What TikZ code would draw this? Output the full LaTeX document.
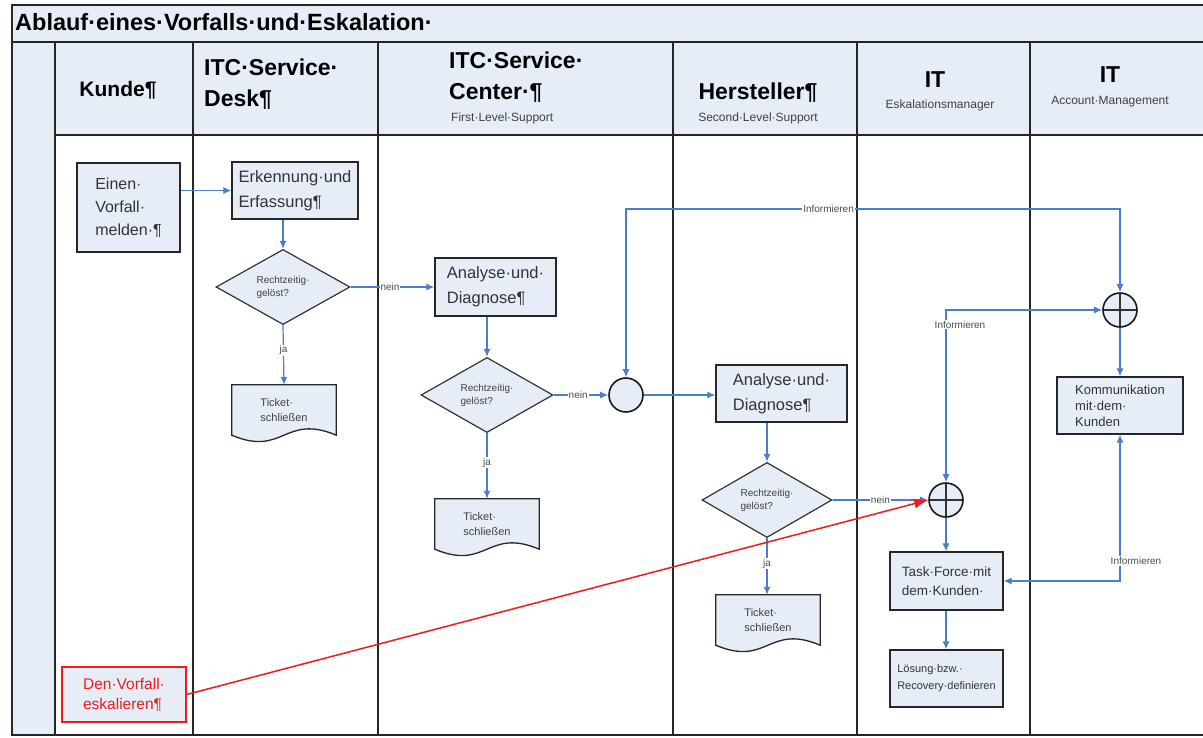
\documentclass[tikz,border=0pt]{standalone}
\usepackage{fontspec}
\setmainfont{Liberation Sans}
\usetikzlibrary{arrows.meta,shapes.geometric,calc}
\definecolor{lb}{RGB}{231,237,247}
\definecolor{fl}{RGB}{74,126,200}
\definecolor{rd}{RGB}{238,28,28}
\newcommand\fsz[2]{\fontsize{#1}{#2}\selectfont}
\begin{document}
\begin{tikzpicture}[x=1pt,y=-1pt,
  frame/.style={draw=black!85,line width=1.4pt},
  hdr/.style={font=\bfseries\fsz{23}{31},align=left,inner sep=0pt},
  sub/.style={font=\fsz{12}{14},text=black!75,inner sep=0pt},
  box/.style={draw=black!85,line width=1.3pt,fill=lb,inner sep=2pt,align=left},
  dec/.style={diamond,draw=black!80,line width=1.2pt,fill=lb,inner sep=0pt,align=left,font=\fsz{10}{13},text=black!75},
  docn/.style={inner sep=2pt,align=left,font=\fsz{11}{15},text=black!75,minimum width=104pt,minimum height=50pt},
  docshape/.style={draw=black!85,line width=1.3pt,fill=lb},
  evt/.style={circle,draw=black!90,line width=1.6pt,fill=lb,minimum size=34pt,inner sep=0pt},
  xorg/.style={evt,path picture={\draw[line width=1.2pt,black!80] (path picture bounding box.north) -- (path picture bounding box.south) (path picture bounding box.west) -- (path picture bounding box.east);}},
  flow/.style={draw=fl,line width=1.2pt,-{Latex[length=8pt,width=7pt]}},
  both/.style={draw=fl,line width=1.2pt,{Latex[length=8pt,width=7pt]}-{Latex[length=8pt,width=7pt]}},
  lbl/.style={font=\fsz{10}{12},text=black!70,fill=white,inner sep=1pt},
  esc/.style={draw=rd,line width=1.5pt,-{Latex[length=14pt,width=10pt]}}
]
\useasboundingbox (0,0) rectangle (1203,737);
\fill[white] (0,0) rectangle (1203,737);
% frame and lanes
\fill[lb] (12,5) rectangle (1206,42);
\fill[lb] (12,42) rectangle (55,735);
\fill[lb] (55,42) rectangle (1206,135);
\draw[frame] (12,5) rectangle (1206,735);
\draw[frame] (12,42) -- (1206,42);
\draw[frame] (55,135) -- (1206,135);
\foreach \xx in {55,193,378,673,857,1030} \draw[frame] (\xx,42) -- (\xx,735);
\node[anchor=west,font=\bfseries\fsz{23.5}{26},inner sep=0pt] (title) at (15,22) {Ablauf·eines·Vorfalls·und·Eskalation·};
% headers
\node[hdr,font=\bfseries\fsz{21}{30}] (hK) at (118,90) {Kunde¶};
\node[hdr,anchor=west] (hSD) at (204,84) {ITC·Service·\\Desk¶};
\node[hdr,anchor=west] (hSC) at (449,77) {ITC·Service·\\Center·¶};
\node[sub,anchor=west] (sSC) at (451,118) {First·Level·Support};
\node[hdr] (hH) at (758,93) {Hersteller¶};
\node[sub] (sH) at (758,118) {Second·Level·Support};
\node[hdr] (hE) at (935,80) {IT};
\node[sub] (sE) at (940,105) {Eskalationsmanager};
\node[hdr] (hA) at (1110,75) {IT};
\node[sub] (sA) at (1110,102) {Account·Management};
% nodes
\node[box,minimum width=103pt,minimum height=89pt,font=\fsz{16}{23},text=black!80] (melden) at (128.5,207.5) {Einen·\\Vorfall·\\melden·¶};
\node[box,minimum width=126pt,minimum height=57pt,font=\fsz{16.5}{25},text=black!80] (erk) at (295,190.5) {Erkennung·und\\Erfassung¶};
\node[dec,minimum width=134pt,minimum height=75pt] (d1) at (283,287) {Rechtzeitig·\\gelöst?};
\node[docn] (tk1) at (284,410) {};
\node[box,minimum width=121pt,minimum height=58pt,font=\fsz{16.5}{25},text=black!80] (an1) at (495.5,287) {Analyse·und·\\Diagnose¶};
\node[dec,minimum width=132pt,minimum height=75pt] (d2) at (487,395) {Rechtzeitig·\\gelöst?};
\node[docn] (tk2) at (487,524) {};
\node[evt] (c1) at (626,395) {};
\node[box,minimum width=131pt,minimum height=57pt,font=\fsz{16.5}{25},text=black!80] (an2) at (781.5,393.5) {Analyse·und·\\Diagnose¶};
\node[dec,minimum width=130pt,minimum height=73pt] (d3) at (767,500) {Rechtzeitig·\\gelöst?};
\node[docn] (tk3) at (768,620) {};
\node[xorg] (x2) at (946,500) {};
\node[xorg] (x1) at (1120,310) {};
\node[box,minimum width=126pt,minimum height=57pt,font=\fsz{13}{16},text=black!80] (kom) at (1120,405.5) {Kommunikation\\mit·dem·\\Kunden};
\node[box,minimum width=113pt,minimum height=58pt,font=\fsz{13.5}{19},text=black!80] (tf) at (946.5,581) {Task·Force·mit\\dem·Kunden·};
\node[box,minimum width=113pt,minimum height=57pt,font=\fsz{11}{17},text=black!80] (lo) at (946.5,678.5) {Lösung·bzw.·\\Recovery·definieren};
\node[box,draw=rd,fill=lb,line width=1.3pt,minimum width=124pt,minimum height=55pt,font=\fsz{15.5}{20},text=rd] (esk) at (124,694.5) {Den·Vorfall·\\eskalieren¶};
% document shapes
\foreach \t in {tk1,tk2,tk3}{
  \path[docshape] (\t.north west) -- (\t.north east) -- (\t.south east)
    .. controls +(-52,-22) and +(52,22) .. (\t.south west) -- cycle;
  \node[docn] at (\t) {Ticket·\\schließen};
}
% flows
\draw[flow] (melden.east |- erk.west) -- (erk.west);
\draw[flow] (d1.north |- erk.south) -- (d1.north);
\draw[flow] (d1.south) -- node[lbl,pos=0.42] {ja} (tk1.north);
\draw[flow] (d1.east) -- node[lbl,pos=0.47] {nein} (an1.west);
\draw[flow] (d2.north |- an1.south) -- (d2.north);
\draw[flow] (d2.south) -- node[lbl,pos=0.45] {ja} (tk2.north);
\draw[flow] (d2.east) -- node[lbl,pos=0.45] {nein} (c1.west);
\draw[flow] (c1.east) -- (c1.east -| an2.west);
\draw[flow] (d3.north |- an2.south) -- (d3.north);
\draw[flow] (d3.south) -- node[lbl,pos=0.45] {ja} (d3.south |- tk3.north);
\draw[flow] (d3.east) -- node[lbl,pos=0.5] {nein} (x2.west);
\coordinate (iA) at (c1.north |- 0,209);
\coordinate (iB) at (x1.north |- 0,209);
\draw[both] (c1.north) -- (iA) -- node[lbl,pos=0.41] {Informieren} (iB) -- (x1.north);
\draw[both] (x2.north) |- node[lbl,pos=0.457,xshift=14pt] {Informieren} (x1.west);
\draw[both] (tf.east) -| node[lbl,pos=0.568,xshift=16pt] {Informieren} (kom.south);
\draw[flow] (x1.south) -- (kom.north);
\draw[flow] (x2.south) -- (x2.south |- tf.north);
\draw[flow] (x2.south |- tf.south) -- (x2.south |- lo.north);
\draw[esc] (esk.east) -- (x2.west);
\end{tikzpicture}
\end{document}
